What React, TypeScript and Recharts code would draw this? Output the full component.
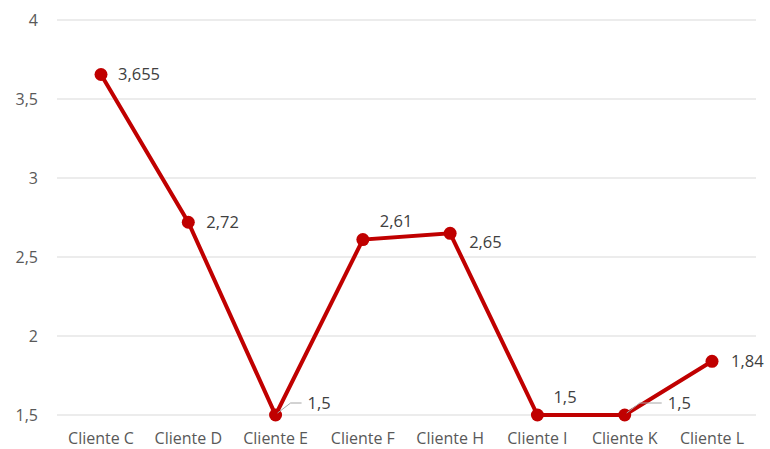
import React from "react";
import { LineChart, Line, XAxis, YAxis, CartesianGrid, LabelList } from "recharts";

const clientes = ["Cliente C", "Cliente D", "Cliente E", "Cliente F", "Cliente H", "Cliente I", "Cliente K", "Cliente L"];
const valores = [3.655, 2.72, 1.5, 2.61, 2.65, 1.5, 1.5, 1.84];
const yTicks = [1.5, 2, 2.5, 3, 3.5, 4];

// label placement per point: offset from the dot, and whether a leader line is drawn
const labelOffsets = [
  { dx: 17, dy: 0, leader: false },
  { dx: 18, dy: 0, leader: false },
  { dx: 32, dy: -12, leader: true },
  { dx: 17, dy: -18, leader: false },
  { dx: 19, dy: 9, leader: false },
  { dx: 16, dy: -18, leader: false },
  { dx: 43, dy: -12, leader: true },
  { dx: 19, dy: 0, leader: false },
];

const data = clientes.map((c, i) => ({ cliente: c, valor: valores[i] }));

const fmt = (v: number) => String(v).replace(".", ",");
const FONT = "'Open Sans', 'Noto Sans', sans-serif";
const RED = "#c00000";

const ValueLabel = (props: any) => {
  const { x, y, value, index } = props;
  const o = labelOffsets[index];
  const tx = x + o.dx;
  const ty = y + o.dy;
  return (
    <g>
      {o.leader && (
        <polyline
          points={`${x + 2},${y - 2} ${x + 15},${ty} ${tx - 6},${ty}`}
          fill="none"
          stroke="#a6a6a6"
          strokeWidth={1}
        />
      )}
      <text x={tx} y={ty} dy="0.35em" textAnchor="start" fontSize={16.5} fill="#404040" fontFamily={FONT}>
        {fmt(value)}
      </text>
    </g>
  );
};

export default function App() {
  return (
    <div style={{ position: "fixed", left: 0, top: 0, width: 770, height: 449, background: "#fff" }}>
      <LineChart width={770} height={449} data={data} margin={{ top: 20, right: 14, bottom: 0, left: 0 }}>
        <CartesianGrid vertical={false} stroke="#d9d9d9" />
        <XAxis
          dataKey="cliente"
          height={34}
          padding={{ left: 44, right: 44 }}
          axisLine={false}
          tickLine={false}
          tickSize={0}
          tickMargin={18}
          tick={{ fontSize: 16, fill: "#595959", fontFamily: FONT }}
        />
        <YAxis
          width={57}
          domain={[1.5, 4]}
          ticks={yTicks}
          axisLine={false}
          tickLine={false}
          tickSize={0}
          tickMargin={19}
          tickFormatter={fmt}
          tick={{ fontSize: 16, fill: "#595959", fontFamily: FONT }}
        />
        <Line
          type="linear"
          dataKey="valor"
          stroke={RED}
          strokeWidth={4}
          dot={{ r: 6.5, fill: RED, stroke: RED, strokeWidth: 0 }}
          isAnimationActive={false}
        >
          <LabelList dataKey="valor" content={ValueLabel} />
        </Line>
      </LineChart>
    </div>
  );
}
